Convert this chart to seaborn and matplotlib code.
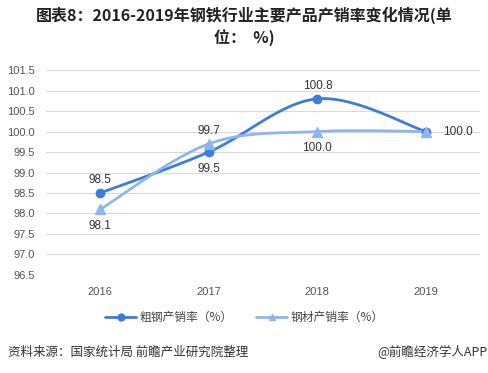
import numpy as np
import pandas as pd
import matplotlib
matplotlib.use("Agg")
import matplotlib.pyplot as plt
from matplotlib.lines import Line2D
import seaborn as sns

years = ["2016", "2017", "2018", "2019"]
crude_steel = [98.5, 99.5, 100.8, 100.0]
steel_products = [98.1, 99.7, 100.0, 100.0]
series_names = ["粗钢产销率（%）", "钢材产销率（%）"]
yticks = [96.5, 97.0, 97.5, 98.0, 98.5, 99.0, 99.5, 100.0, 100.5, 101.0, 101.5]

sns.set_theme(style="white")
plt.rcParams['font.family'] = ['Noto Sans CJK SC', 'DejaVu Sans']

c1 = "#3B7DDD"
c2 = "#8FB5EE"


def smooth(xs, ys, n=40):
    # Catmull-Rom style bezier smoothing (like spreadsheet smoothed lines)
    xs = np.asarray(xs, float); ys = np.asarray(ys, float)
    P = np.column_stack([xs, ys])
    out = []
    for i in range(len(P) - 1):
        p0 = P[i - 1] if i > 0 else P[i]
        p1 = P[i]; p2 = P[i + 1]
        p3 = P[i + 2] if i + 2 < len(P) else P[i + 1]
        c1p = p1 + (p2 - p0) / 6.0
        c2p = p2 - (p3 - p1) / 6.0
        t = np.linspace(0, 1, n)[:, None]
        seg = ((1 - t) ** 3) * p1 + 3 * ((1 - t) ** 2) * t * c1p + 3 * (1 - t) * t ** 2 * c2p + t ** 3 * p2
        out.append(seg if i == 0 else seg[1:])
    s = np.vstack(out)
    return s[:, 0], s[:, 1]


fig = plt.figure(figsize=(4.89, 3.73), dpi=100)
ax = fig.add_axes([0.094, 0.263, 0.888, 0.549])

xpos = np.arange(len(years))
frames = []
for name, vals in zip(series_names, [crude_steel, steel_products]):
    sx, sy = smooth(xpos, vals)
    frames.append(pd.DataFrame({"x": sx, "y": sy, "series": name}))
df = pd.concat(frames, ignore_index=True)

sns.lineplot(data=df, x="x", y="y", hue="series", palette=[c1, c2], sort=False,
             estimator=None, linewidth=2, ax=ax, legend=False)
ax.plot(xpos, crude_steel, linestyle="none", marker="o", markersize=6, color=c1, zorder=4)
ax.plot(xpos, steel_products, linestyle="none", marker="^", markersize=7, color=c2, zorder=4)

# data labels
lab_kw = dict(fontsize=8.5, color="#333333", family=['Liberation Sans', 'DejaVu Sans'])
offs1 = [(0, 9, 'center'), (0, -12, 'center'), (0, 9, 'center'), (12, 0, 'left')]
offs2 = [(0, -12, 'center'), (0, 9, 'center'), (0, -12, 'center'), None]
for vals, offs in [(crude_steel, offs1), (steel_products, offs2)]:
    for i, v in enumerate(vals):
        if offs[i] is None:
            continue
        dx, dy, ha = offs[i]
        ax.annotate(f"{v:.1f}", (i, v), xytext=(dx, dy), textcoords="offset points",
                    ha=ha, va="center", **lab_kw)

ax.set_xlim(-0.5, 3.5)
ax.set_ylim(96.5, 101.5)
ax.set_yticks(yticks)
ax.set_yticklabels([f"{t:.1f}" for t in yticks])
ax.set_xticks(xpos)
ax.set_xticklabels(years)
ax.tick_params(axis='both', length=0, labelsize=8, labelcolor="#555555")
ax.tick_params(axis='y', pad=8)
ax.tick_params(axis='x', pad=9)
for lab in ax.get_xticklabels() + ax.get_yticklabels():
    lab.set_family(['Liberation Sans', 'DejaVu Sans'])
ax.grid(axis='y', color="#D9D9D9", linewidth=0.8)
ax.grid(axis='x', visible=False)
for s in ax.spines.values():
    s.set_visible(False)
ax.set_xlabel("")
ax.set_ylabel("")

handles = [Line2D([0], [0], color=c1, lw=2, marker="o", markersize=5),
           Line2D([0], [0], color=c2, lw=2, marker="^", markersize=5)]
fig.legend(handles, series_names, loc="center", bbox_to_anchor=(0.5, 0.148), ncol=2,
           frameon=False, fontsize=8.5, handlelength=2.6, columnspacing=2.0, handletextpad=0.3,
           labelcolor="#444444")

fig.text(0.5, 0.958, "图表8：2016-2019年钢铁行业主要产品产销率变化情况(单", ha="center", va="center",
         fontsize=11.5, fontweight="bold", color="#222222")
fig.text(0.5, 0.900, "位：  %)", ha="center", va="center", fontsize=11.5, fontweight="bold", color="#222222")

fig.text(0.016, 0.056, "资料来源：国家统计局 前瞻产业研究院整理", ha="left", va="center",
         fontsize=9, color="#333333")
fig.text(0.996, 0.056, "@前瞻经济学人APP", ha="right", va="center", fontsize=9, color="#333333")

fig.savefig("out.png", dpi=100)
